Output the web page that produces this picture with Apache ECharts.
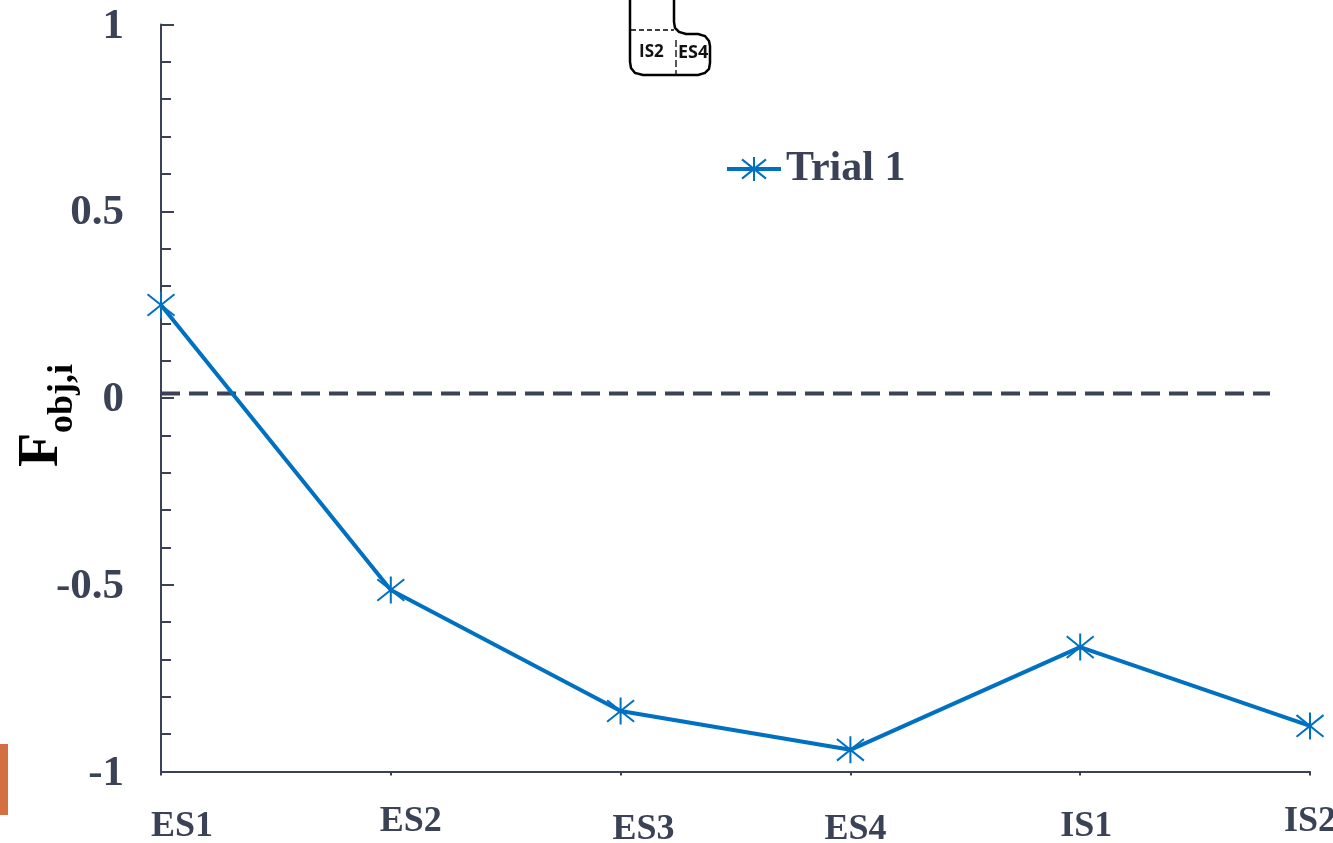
<!DOCTYPE html>
<html><head><meta charset="utf-8">
<style>html,body{margin:0;padding:0;background:#fff}#c{width:1333px;height:843px}</style>
<script src="https://cdn.jsdelivr.net/npm/echarts@6/dist/echarts.min.js"></script></head>
<body><div id="c"></div>
<script>
const categories = ['ES1','ES2','ES3','ES4','IS1','IS2'];
const trial1 = [0.249,-0.514,-0.838,-0.942,-0.667,-0.878];
const refX = [0,4.826];
const refY = [0.012,0.012];
const yTickLabels = {'1':'1','0.5':'0.5','0':'0','-0.5':'-0.5','-1':'-1'};
const labelNudges = [[5,0,0,42],[0,0,0,40],[8,0,0,46],[8,0,0,10],[5,0,0,12],[0,0,0,0]];

const INK='#3b4256', BLUE='#0070c0';
const star='path://M-1,-1L1,1M-1,1L1,-1M0,-1.25L0,1.25';
const chart=echarts.init(document.getElementById('c'),null,{renderer:'canvas'});
chart.setOption({
  animation:false,
  backgroundColor:'#fff',
  grid:{left:161,right:23,top:24.5,bottom:71.5,containLabel:false,outerBoundsMode:'none'},
  legend:{left:720,top:143,data:['Trial 1'],itemWidth:54,itemHeight:30,itemGap:5,
    lineStyle:{width:4},
    textStyle:{fontFamily:'Liberation Serif',fontWeight:'bold',fontSize:42,color:INK}},
  xAxis:[{type:'category',boundaryGap:false,
    data:categories.map((c,i)=>({value:c,textStyle:{padding:labelNudges[i]}})),
    axisLine:{lineStyle:{color:INK,width:2},onZero:false},
    axisTick:{alignWithLabel:true,length:4,lineStyle:{color:INK,width:2}},
    axisLabel:{interval:0,margin:32,fontFamily:'Liberation Serif',fontWeight:'bold',fontSize:36,color:INK,hideOverlap:false},
    splitLine:{show:false}},
   {type:'value',show:false,min:0,max:5}],
  yAxis:{type:'value',min:-1,max:1,interval:0.5,
    axisLine:{show:true,onZero:false,lineStyle:{color:INK,width:2}},
    axisTick:{show:true,inside:true,length:13,lineStyle:{color:INK,width:2}},
    minorTick:{show:true,splitNumber:5,length:10,lineStyle:{color:INK,width:2}},
    splitLine:{show:false},minorSplitLine:{show:false},
    axisLabel:{margin:37,verticalAlign:'top',lineHeight:4,verticalAlignMinValue:'bottom',
      fontFamily:'Liberation Serif',fontWeight:'bold',fontSize:43,color:INK,
      formatter:v=>yTickLabels[String(v)]},
    name:'{f|F}{s|obj,i}',nameLocation:'middle',nameRotate:90,nameGap:90,nameMoveOverlap:false,
    nameTextStyle:{padding:[0,35,0,0],rich:{
      f:{fontFamily:'Liberation Serif',fontWeight:'bold',fontSize:56,color:'#000',verticalAlign:'bottom',lineHeight:62},
      s:{fontFamily:'Liberation Serif',fontWeight:'bold',fontSize:36,color:'#000',verticalAlign:'top',lineHeight:62,padding:[36,0,0,0]}}}
  },
  series:[
    {name:'Reference',type:'line',xAxisIndex:1,data:refX.map((x,i)=>[x,refY[i]]),symbol:'none',silent:true,
     lineStyle:{color:INK,width:4,type:[19,9]},z:1},
    {name:'Trial 1',type:'line',data:trial1,symbol:star,symbolSize:27,showSymbol:true,clip:false,
     lineStyle:{color:BLUE,width:4},itemStyle:{color:'none',borderColor:BLUE,borderWidth:2},z:3}
  ],
  graphic:[
    {type:'rect',shape:{x:0,y:744,width:8,height:71},style:{fill:'#d36f40'},silent:true},
    {type:'polyline',shape:{points:[[630,0],[630,62],[631,68],[635,73],[643,75],[698,75],[705,73],[709,69],[710,63],[710,46],[709,41],[705,36],[698,34],[686,34],[679,32],[675,28],[674,22],[674,0]]},
     style:{fill:'none',stroke:'#000',lineWidth:2.5},silent:true},
    {type:'line',shape:{x1:631,y1:30,x2:674,y2:30},style:{stroke:'#000',lineWidth:1.3,lineDash:[5,3]},silent:true},
    {type:'line',shape:{x1:676,y1:40,x2:676,y2:75},style:{stroke:'#000',lineWidth:1.3,lineDash:[7,3]},silent:true},
    {type:'text',x:639,y:44,style:{text:'IS2',fontFamily:'Open Sans',fontWeight:'bold',fontSize:17,fill:'#111'},silent:true},
    {type:'text',x:678,y:44,style:{text:'ES4',fontFamily:'Open Sans',fontWeight:'bold',fontSize:18,fill:'#111'},silent:true}
  ]
});
</script></body></html>
